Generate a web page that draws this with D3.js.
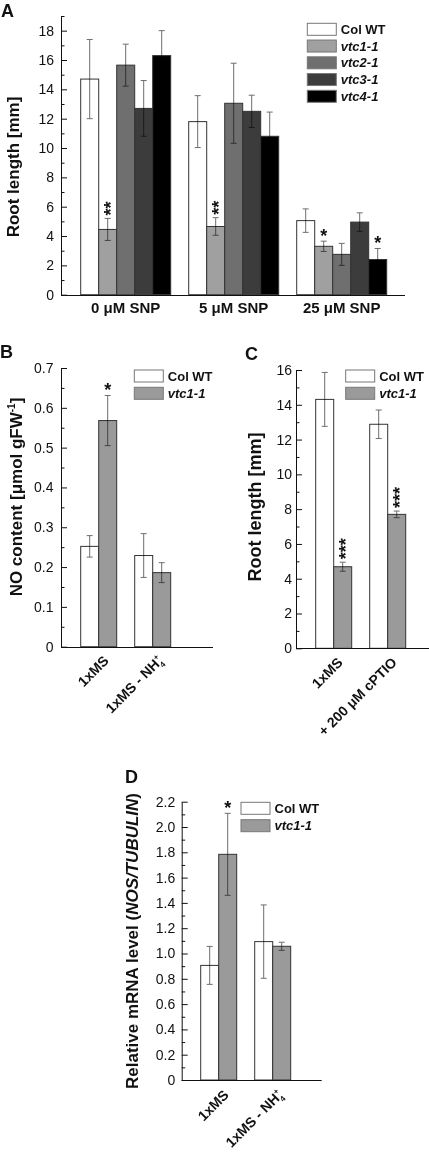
<!DOCTYPE html>
<html><head><meta charset="utf-8">
<script src="https://cdn.jsdelivr.net/npm/d3@7"></script>
<style>body{margin:0;background:#fff} svg{display:block}</style>
</head><body>
<svg id="c" width="429" height="1154"></svg>
<script>
// ---------- Panel A ----------
const groupsA = ["0 μM SNP", "5 μM SNP", "25 μM SNP"];
const seriesA = ["Col WT", "vtc1-1", "vtc2-1", "vtc3-1", "vtc4-1"];
const colWT_A = [14.7, 11.8, 5.05];
const colWT_A_err = [2.7, 1.77, 0.8];
const vtc1_A = [4.45, 4.65, 3.3];
const vtc1_A_err = [0.75, 0.6, 0.35];
const vtc2_A = [15.65, 13.05, 2.75];
const vtc2_A_err = [1.43, 2.73, 0.75];
const vtc3_A = [12.7, 12.5, 4.95];
const vtc3_A_err = [1.9, 1.1, 0.63];
const vtc4_A = [16.3, 10.8, 2.4];
const vtc4_A_err = [1.7, 1.65, 0.75];
const starsA = [["", "**", "", "", ""], ["", "**", "", "", ""], ["", "*", "", "", "*"]];
const ticksA = [0, 2, 4, 6, 8, 10, 12, 14, 16, 18];
const minorA = [1, 3, 5, 7, 9, 11, 13, 15, 17, 19];

// ---------- Panel B ----------
const groupsB = ["1xMS", "1xMS - NH4+"];
const seriesB = ["Col WT", "vtc1-1"];
const colWT_B = [0.252, 0.229];
const colWT_B_err = [0.027, 0.055];
const vtc1_B = [0.568, 0.186];
const vtc1_B_err = [0.063, 0.025];
const starsB = [["", "*"], ["", ""]];
const ticksB = [0, 0.1, 0.2, 0.3, 0.4, 0.5, 0.6, 0.7];
const minorB = [0.05, 0.15, 0.25, 0.35, 0.45, 0.55, 0.65];

// ---------- Panel C ----------
const groupsC = ["1xMS", "+ 200 μM cPTIO"];
const seriesC = ["Col WT", "vtc1-1"];
const colWT_C = [14.31, 12.88];
const colWT_C_err = [1.55, 0.82];
const vtc1_C = [4.69, 7.70];
const vtc1_C_err = [0.26, 0.19];
const starsC = [["", "***"], ["", "***"]];
const ticksC = [0, 2, 4, 6, 8, 10, 12, 14, 16];
const minorC = [1, 3, 5, 7, 9, 11, 13, 15];

// ---------- Panel D ----------
const groupsD = ["1xMS", "1xMS - NH4+"];
const seriesD = ["Col WT", "vtc1-1"];
const colWT_D = [0.906, 1.094];
const colWT_D_err = [0.15, 0.29];
const vtc1_D = [1.784, 1.057];
const vtc1_D_err = [0.324, 0.032];
const starsD = [["", "*"], ["", ""]];
const ticksD = [0, 0.2, 0.4, 0.6, 0.8, 1.0, 1.2, 1.4, 1.6, 1.8, 2.0, 2.2];
const minorD = [0.1, 0.3, 0.5, 0.7, 0.9, 1.1, 1.3, 1.5, 1.7, 1.9, 2.1];

const FONT = "'Liberation Sans', Arial, Helvetica, sans-serif";
const svg = d3.select("#c").style("font-family", FONT);

function addLabelText(sel, label) {
  // handles NH4+ with stacked sub/superscript
  if (label.endsWith("NH4+")) {
    sel.append("tspan").text(label.slice(0, -2));
    sel.append("tspan").attr("font-size", 8).attr("dy", -6).text("+");
    sel.append("tspan").attr("font-size", 8).attr("dx", -5).attr("dy", 10).text("4");
  } else {
    sel.text(label);
  }
}

function drawPanel(cfg) {
  const g = svg.append("g");
  const x0 = d3.scaleBand().domain(cfg.groups).range(cfg.xRange)
    .paddingInner(cfg.padIn).paddingOuter(cfg.padOut);
  const x1 = d3.scaleBand().domain(cfg.series).range([0, x0.bandwidth()]);
  const y = d3.scaleLinear().domain(cfg.yDomain).range(cfg.yRange);

  const rows = [];
  cfg.groups.forEach((grp, gi) => cfg.series.forEach((s, si) => rows.push({
    grp, s, si, v: cfg.values[si][gi], e: cfg.errs[si][gi], star: cfg.stars[gi][si]
  })));
  const cx = d => x0(d.grp) + x1(d.s) + x1.bandwidth() / 2;

  g.selectAll("rect.bar").data(rows).join("rect").attr("class", "bar")
    .attr("x", d => x0(d.grp) + x1(d.s)).attr("y", d => y(d.v))
    .attr("width", x1.bandwidth()).attr("height", d => y(0) - y(d.v))
    .attr("fill", d => cfg.colors[d.si]).attr("stroke", "#333").attr("stroke-width", 1);

  const eg = g.append("g").attr("stroke", "#6e6e6e").attr("stroke-width", 1)
    .style("mix-blend-mode", "multiply");
  eg.selectAll("line.v").data(rows).join("line")
    .attr("x1", cx).attr("x2", cx).attr("y1", d => y(d.v + d.e)).attr("y2", d => y(d.v - d.e));
  eg.selectAll("line.t").data(rows).join("line")
    .attr("x1", d => cx(d) - 3).attr("x2", d => cx(d) + 3).attr("y1", d => y(d.v + d.e)).attr("y2", d => y(d.v + d.e));
  eg.selectAll("line.b").data(rows).join("line")
    .attr("x1", d => cx(d) - 3).attr("x2", d => cx(d) + 3).attr("y1", d => y(d.v - d.e)).attr("y2", d => y(d.v - d.e));

  // stars
  rows.filter(d => d.star).forEach(d => {
    const t = g.append("text").attr("font-weight", "bold").attr("font-size", 18).attr("fill", "#111");
    if (d.star.length > 1) {
      t.attr("transform", `translate(${cx(d)},${y(d.v + d.e) - 3}) rotate(-90)`)
        .attr("dy", "0.52em").attr("text-anchor", "start").text(d.star);
    } else {
      t.attr("x", cx(d)).attr("y", y(d.v + d.e) + 1).attr("text-anchor", "middle").text(d.star);
    }
  });

  // y axis
  const ax = g.append("g").attr("transform", `translate(${cfg.axisX},0)`)
    .call(d3.axisLeft(y).tickValues(cfg.ticks).tickFormat(cfg.fmt)
      .tickSizeInner(-6).tickSizeOuter(0).tickPadding(cfg.tickPad));
  ax.selectAll("text").attr("font-size", cfg.tickFont).attr("fill", "#111").style("font-family", FONT);
  ax.select(".domain").attr("stroke", "#111");
  ax.selectAll(".tick line").attr("stroke", "#111");
  const mx = g.append("g").attr("transform", `translate(${cfg.axisX},0)`)
    .call(d3.axisLeft(y).tickValues(cfg.minor).tickFormat("").tickSizeInner(-3.5).tickSizeOuter(0));
  mx.select(".domain").remove();
  mx.selectAll(".tick line").attr("stroke", "#111");

  // x axis line
  g.append("line").attr("x1", cfg.axisX).attr("x2", cfg.xEnd)
    .attr("y1", Math.round(y(0)) + 0.5).attr("y2", Math.round(y(0)) + 0.5)
    .attr("stroke", "#111").attr("stroke-width", 1);

  // x labels
  cfg.groups.forEach(grp => {
    const c = x0(grp) + x0.bandwidth() / 2;
    const t = g.append("text").attr("font-weight", "bold").attr("fill", "#111");
    if (cfg.rotLabels) {
      t.attr("font-size", 14).attr("text-anchor", "end")
        .attr("transform", `translate(${c + cfg.lblDx},${y(0) + cfg.lblDy}) rotate(-45)`);
      addLabelText(t, grp);
    } else {
      t.attr("font-size", 15).attr("text-anchor", "middle").attr("x", c).attr("y", y(0) + cfg.lblDy).text(grp);
    }
  });

  // legend
  const lg = g.append("g");
  cfg.series.forEach((s, i) => {
    const ry = cfg.legY + i * cfg.legStep;
    lg.append("rect").attr("x", cfg.legX).attr("y", ry - 6).attr("width", 29).attr("height", 12)
      .attr("fill", cfg.colors[i]).attr("stroke", "#777").attr("stroke-width", 1);
    lg.append("text").attr("x", cfg.legX + 33.5).attr("y", ry + 4.5)
      .attr("font-size", 13).attr("font-weight", "bold").attr("fill", "#111")
      .attr("font-style", s === "Col WT" ? "normal" : "italic").text(s);
  });

  // panel letter
  g.append("text").attr("x", cfg.letterX).attr("y", cfg.letterY).attr("font-size", 18)
    .attr("font-weight", "bold").attr("fill", "#111").text(cfg.letter);

  // y label
  const yl = g.append("text").attr("font-weight", "bold").attr("font-size", cfg.ylFont).attr("fill", "#111")
    .attr("text-anchor", "middle")
    .attr("transform", `translate(${cfg.ylX},${cfg.ylY}) rotate(-90)`);
  cfg.ylabel(yl);
}

const fmt1 = v => v === 0 ? "0" : d3.format(".1f")(v);

drawPanel({
  groups: groupsA, series: seriesA,
  values: [colWT_A, vtc1_A, vtc2_A, vtc3_A, vtc4_A],
  errs: [colWT_A_err, vtc1_A_err, vtc2_A_err, vtc3_A_err, vtc4_A_err],
  stars: starsA, colors: ["#ffffff", "#a0a0a0", "#6f6f6f", "#3c3c3c", "#000000"],
  xRange: [71.7, 395.7], padIn: 1 / 6, padOut: 1 / 12,
  yDomain: [0, 19], yRange: [294.7, 16],
  ticks: ticksA, minor: minorA, fmt: d3.format("d"), tickPad: 7, tickFont: 14,
  axisX: 61, xEnd: 405, rotLabels: false, lblDy: 18,
  legX: 307.3, legY: 29.3, legStep: 16.75,
  letter: "A", letterX: 1, letterY: 17,
  ylFont: 17, ylX: 19, ylY: 167,
  ylabel: t => t.text("Root length [mm]")
});

drawPanel({
  groups: groupsB, series: seriesB,
  values: [colWT_B, vtc1_B], errs: [colWT_B_err, vtc1_B_err],
  stars: starsB, colors: ["#ffffff", "#9a9a9a"],
  xRange: [71.7, 179.7], padIn: 1 / 3, padOut: 1 / 6,
  yDomain: [0, 0.7], yRange: [646.7, 368],
  ticks: ticksB, minor: minorB, fmt: v => v === 0 ? "0" : d3.format(".1f")(v), tickPad: 7.5, tickFont: 14,
  axisX: 61, xEnd: 213, rotLabels: true, lblDx: 11, lblDy: 15,
  legX: 134.3, legY: 376, legStep: 17.3,
  letter: "B", letterX: 0, letterY: 358,
  ylFont: 17, ylX: 22, ylY: 497,
  ylabel: t => {
    t.append("tspan").text("NO content [μmol gFW");
    t.append("tspan").attr("font-size", 10).attr("dy", -7).text("-1");
    t.append("tspan").attr("dy", 7).text("]");
  }
});

drawPanel({
  groups: groupsC, series: seriesC,
  values: [colWT_C, vtc1_C], errs: [colWT_C_err, vtc1_C_err],
  stars: starsC, colors: ["#ffffff", "#9a9a9a"],
  xRange: [306.7, 414.7], padIn: 1 / 3, padOut: 1 / 6,
  yDomain: [0, 16], yRange: [648.3, 370],
  ticks: ticksC, minor: minorC, fmt: d3.format("d"), tickPad: 4, tickFont: 14,
  axisX: 296, xEnd: 429, rotLabels: true, lblDx: 10, lblDy: 15,
  legX: 345.7, legY: 376, legStep: 17.3,
  letter: "C", letterX: 245, letterY: 360,
  ylFont: 18, ylX: 261, ylY: 507,
  ylabel: t => t.text("Root length [mm]")
});

drawPanel({
  groups: groupsD, series: seriesD,
  values: [colWT_D, vtc1_D], errs: [colWT_D_err, vtc1_D_err],
  stars: starsD, colors: ["#ffffff", "#9a9a9a"],
  xRange: [191.7, 299.7], padIn: 1 / 3, padOut: 1 / 6,
  yDomain: [0, 2.2], yRange: [1080, 801.7],
  ticks: ticksD, minor: minorD, fmt: fmt1, tickPad: 6.5, tickFont: 14,
  axisX: 181.7, xEnd: 321.7, rotLabels: true, lblDx: 11, lblDy: 16,
  legX: 241, legY: 808.3, legStep: 17.4,
  letter: "D", letterX: 125, letterY: 783,
  ylFont: 17, ylX: 138, ylY: 941,
  ylabel: t => {
    t.append("tspan").text("Relative mRNA level (");
    t.append("tspan").attr("font-style", "italic").text("NOS/TUBULIN");
    t.append("tspan").text(")");
  }
});
</script>
</body></html>
